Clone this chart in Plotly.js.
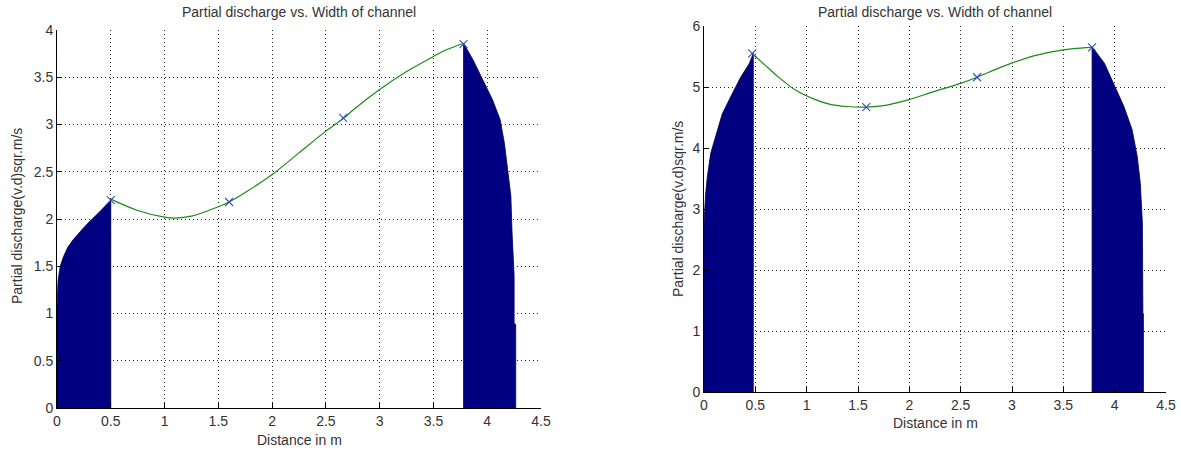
<!DOCTYPE html>
<html>
<head>
<meta charset="utf-8">
<script src="https://cdn.plot.ly/plotly-3.0.1.min.js"></script>
<style>html,body{margin:0;padding:0;background:#fff;}#chart{width:1181px;height:450px;}</style>
</head>
<body>
<div id="chart"></div>
<script>
// ---- Left chart data ----
const leftCurveX = [0.5, 0.75, 1.0, 1.1, 1.25, 1.5, 1.6, 1.75, 2.0, 2.25, 2.5, 2.67, 2.75, 3.0, 3.25, 3.5, 3.6, 3.78];
const leftCurveY = [2.21, 2.09, 2.02, 2.01, 2.03, 2.13, 2.18, 2.28, 2.47, 2.70, 2.93, 3.07, 3.15, 3.37, 3.56, 3.72, 3.78, 3.86];
const leftMarkX = [0.5, 1.6, 2.66, 3.78];
const leftMarkY = [2.2, 2.18, 3.07, 3.85];
const leftFill1X = [0, 0, 0.01, 0.03, 0.06, 0.1, 0.15, 0.2, 0.25, 0.3, 0.35, 0.4, 0.45, 0.5, 0.5];
const leftFill1Y = [0, 1.08, 1.35, 1.5, 1.6, 1.7, 1.78, 1.85, 1.91, 1.97, 2.02, 2.08, 2.14, 2.2, 0];
const leftFill2X = [3.78, 3.78, 3.87, 3.96, 4.05, 4.12, 4.16, 4.19, 4.22, 4.23, 4.25, 4.25, 4.265, 4.265];
const leftFill2Y = [0, 3.86, 3.68, 3.47, 3.26, 3.05, 2.80, 2.52, 2.24, 1.88, 1.4, 0.9, 0.88, 0];

// ---- Right chart data ----
const rightCurveX = [0.47, 0.6, 0.72, 0.89, 1.06, 1.22, 1.39, 1.575, 1.73, 1.99, 2.23, 2.5, 2.66, 2.9, 3.17, 3.4, 3.6, 3.78];
const rightCurveY = [5.55, 5.35, 5.17, 4.95, 4.81, 4.72, 4.68, 4.67, 4.69, 4.79, 4.92, 5.06, 5.16, 5.33, 5.49, 5.58, 5.63, 5.65];
const rightMarkX = [0.47, 1.58, 2.66, 3.78];
const rightMarkY = [5.55, 4.67, 5.16, 5.65];
const rightFill1X = [0, 0, 0.016, 0.032, 0.065, 0.113, 0.178, 0.26, 0.357, 0.44, 0.48, 0.48];
const rightFill1Y = [0, 2.76, 3.25, 3.52, 3.91, 4.18, 4.56, 4.84, 5.16, 5.38, 5.55, 0];
const rightFill2X = [3.78, 3.78, 3.90, 3.99, 4.09, 4.17, 4.22, 4.25, 4.27, 4.275, 4.28, 4.28];
const rightFill2Y = [0, 5.66, 5.39, 5.06, 4.68, 4.30, 3.86, 3.42, 2.77, 1.30, 1.28, 0];

// ---- Tick labels ----
const xTicks = [0, 0.5, 1, 1.5, 2, 2.5, 3, 3.5, 4, 4.5];
const xTickText = ['0', '0.5', '1', '1.5', '2', '2.5', '3', '3.5', '4', '4.5'];
const leftYTicks = [0, 0.5, 1, 1.5, 2, 2.5, 3, 3.5, 4];
const leftYTickText = ['0', '0.5', '1', '1.5', '2', '2.5', '3', '3.5', '4'];
const rightYTicks = [0, 1, 2, 3, 4, 5, 6];
const rightYTickText = ['0', '1', '2', '3', '4', '5', '6'];

const titleText = 'Partial discharge vs. Width of channel';
const xTitle = 'Distance in m';
const yTitle = 'Partial discharge(v.d)sqr.m/s';

const FONT = 'Liberation Sans, Arial, sans-serif';
const TXT = '#333333';
const FILL = '#000080';

function fillTrace(x, y, xa, ya) {
  return {x: x, y: y, xaxis: xa, yaxis: ya, type: 'scatter', mode: 'lines', fill: 'toself',
    fillcolor: FILL, line: {color: '#000050', width: 0.8}, hoverinfo: 'skip', showlegend: false};
}
function curveTrace(x, y, xa, ya) {
  return {x: x, y: y, xaxis: xa, yaxis: ya, type: 'scatter', mode: 'lines',
    line: {color: '#1a8a1a', width: 1.2, shape: 'spline', smoothing: 0.8}, showlegend: false};
}
function markTrace(x, y, xa, ya) {
  return {x: x, y: y, xaxis: xa, yaxis: ya, type: 'scatter', mode: 'markers',
    marker: {symbol: 'x-thin-open', size: 8, color: '#3050c0', line: {width: 1.1, color: '#3050c0'}}, showlegend: false};
}

const traces = [
  fillTrace(leftFill1X, leftFill1Y, 'x', 'y'),
  fillTrace(leftFill2X, leftFill2Y, 'x', 'y'),
  curveTrace(leftCurveX, leftCurveY, 'x', 'y'),
  markTrace(leftMarkX, leftMarkY, 'x', 'y'),
  fillTrace(rightFill1X, rightFill1Y, 'x2', 'y2'),
  fillTrace(rightFill2X, rightFill2Y, 'x2', 'y2'),
  curveTrace(rightCurveX, rightCurveY, 'x2', 'y2'),
  markTrace(rightMarkX, rightMarkY, 'x2', 'y2')
];

const W = 1181, H = 450;
function axisBase() {
  return {
    showline: true, linecolor: '#000', linewidth: 1, mirror: false,
    ticks: 'inside', ticklen: 5, tickcolor: '#000', tickwidth: 1,
    showgrid: true, gridcolor: '#222', griddash: '1px,3px', gridwidth: 1,
    zeroline: false, tickmode: 'array', fixedrange: true,
    tickfont: {family: FONT, size: 14, color: TXT}
  };
}
const L = {x0: 57, x1: 541, y0: 30, y1: 408};
const R = {x0: 704, x1: 1166, y0: 26, y1: 392};

const layout = {
  width: W, height: H,
  margin: {l: 0, r: 0, t: 0, b: 0, pad: 0},
  paper_bgcolor: '#fff', plot_bgcolor: '#fff',
  showlegend: false,
  xaxis: Object.assign(axisBase(), {domain: [L.x0 / W, L.x1 / W], range: [0, 4.5], tickvals: xTicks, ticktext: xTickText, anchor: 'y'}),
  yaxis: Object.assign(axisBase(), {domain: [1 - L.y1 / H, 1 - L.y0 / H], range: [0, 4], tickvals: leftYTicks, ticktext: leftYTickText, anchor: 'x'}),
  xaxis2: Object.assign(axisBase(), {domain: [R.x0 / W, R.x1 / W], range: [0, 4.5], tickvals: xTicks, ticktext: xTickText, anchor: 'y2'}),
  yaxis2: Object.assign(axisBase(), {domain: [1 - R.y1 / H, 1 - R.y0 / H], range: [0, 6], tickvals: rightYTicks, ticktext: rightYTickText, anchor: 'x2'}),
  annotations: [
    {text: titleText, xref: 'paper', yref: 'paper', x: (L.x0 + L.x1) / 2 / W, y: 1 - 12 / H, xanchor: 'center', yanchor: 'middle', showarrow: false, font: {family: FONT, size: 14, color: TXT}},
    {text: titleText, xref: 'paper', yref: 'paper', x: (R.x0 + R.x1) / 2 / W, y: 1 - 12 / H, xanchor: 'center', yanchor: 'middle', showarrow: false, font: {family: FONT, size: 14, color: TXT}},
    {text: xTitle, xref: 'paper', yref: 'paper', x: (L.x0 + L.x1) / 2 / W, y: 1 - 440 / H, xanchor: 'center', yanchor: 'middle', showarrow: false, font: {family: FONT, size: 14, color: TXT}},
    {text: xTitle, xref: 'paper', yref: 'paper', x: (R.x0 + R.x1) / 2 / W, y: 1 - 423 / H, xanchor: 'center', yanchor: 'middle', showarrow: false, font: {family: FONT, size: 14, color: TXT}},
    {text: yTitle, xref: 'paper', yref: 'paper', x: 17 / W, y: 1 - 216 / H, xanchor: 'center', yanchor: 'middle', textangle: -90, showarrow: false, font: {family: FONT, size: 14, color: TXT}},
    {text: yTitle, xref: 'paper', yref: 'paper', x: 678 / W, y: 1 - 209 / H, xanchor: 'center', yanchor: 'middle', textangle: -90, showarrow: false, font: {family: FONT, size: 14, color: TXT}}
  ]
};

Plotly.newPlot('chart', traces, layout, {displayModeBar: false, staticPlot: true});
</script>
</body>
</html>
